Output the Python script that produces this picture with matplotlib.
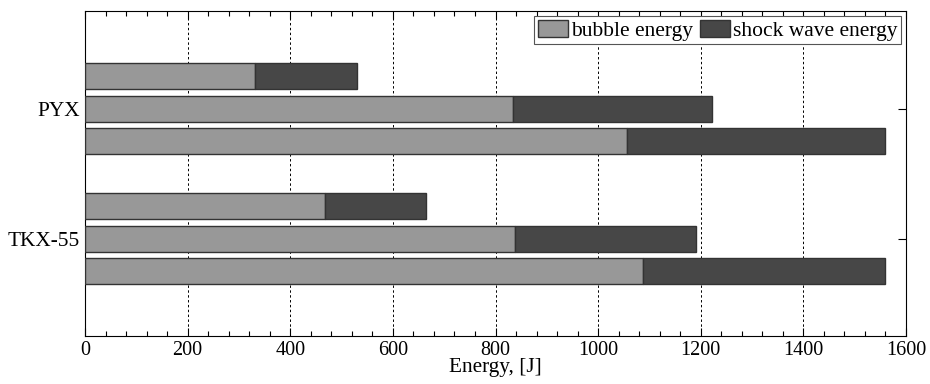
import numpy as np
import matplotlib
matplotlib.use("Agg")
import matplotlib.pyplot as plt
from matplotlib.ticker import MultipleLocator

plt.rcParams['font.family'] = ['Liberation Serif', 'DejaVu Serif']

groups = ["PYX", "TKX-55"]
# three bars per group, top to bottom
bubble_pyx = [331, 834, 1056]
total_pyx = [530, 1222, 1559]
bubble_tkx = [468, 838, 1087]
total_tkx = [665, 1191, 1559]

bubble_color = "#989898"
shock_color = "#474747"


def main():
    fig = plt.figure(figsize=(9.3, 3.84), dpi=100)
    ax = fig.add_axes([85 / 930, 1 - 336 / 384, 821 / 930, 325 / 384])

    centers = [4, 0]
    data = [(bubble_pyx, total_pyx), (bubble_tkx, total_tkx)]
    for c, (bub, tot) in zip(centers, data):
        ys = [c + 1, c, c - 1]
        shock = [t - b for t, b in zip(tot, bub)]
        ax.barh(ys, bub, height=0.8, color=bubble_color, edgecolor="#333333",
                linewidth=1.0, zorder=3)
        ax.barh(ys, shock, left=bub, height=0.8, color=shock_color,
                edgecolor="#333333", linewidth=1.0, zorder=3)

    ax.set_xlim(0, 1600)
    ax.set_ylim(-3, 7)
    ax.set_yticks(centers)
    ax.set_yticklabels(groups, fontsize=15.3)
    ax.xaxis.set_major_locator(MultipleLocator(200))
    ax.xaxis.set_minor_locator(MultipleLocator(40))
    ax.tick_params(axis="x", labelsize=14.5)
    ax.tick_params(which="both", direction="in", top=True, right=True)
    ax.tick_params(which="major", length=6, width=0.8)
    ax.tick_params(which="minor", length=3.5, width=0.8)
    ax.set_xlabel("Energy, [J]", fontsize=15.3, labelpad=-1)

    ax.grid(axis="x", which="major", color="black", linestyle=(0, (2.5, 2.5)),
            linewidth=0.7, zorder=0)
    for s in ax.spines.values():
        s.set_linewidth(0.8)

    handles = [plt.Rectangle((0, 0), 1, 1, facecolor=bubble_color, edgecolor="#333333"),
               plt.Rectangle((0, 0), 1, 1, facecolor=shock_color, edgecolor="#333333")]
    leg = ax.legend(handles, ["bubble energy", "shock wave energy"], loc="upper right",
                    ncol=2, fontsize=15.5, fancybox=False, edgecolor="#555555",
                    framealpha=1, handlelength=1.4, handleheight=0.9,
                    handletextpad=0.15, columnspacing=0.3, borderpad=0.15,
                    borderaxespad=0.25)
    leg.get_frame().set_linewidth(0.8)

    fig.savefig("out.png", dpi=100)
    plt.close(fig)


if __name__ == "__main__":
    main()
